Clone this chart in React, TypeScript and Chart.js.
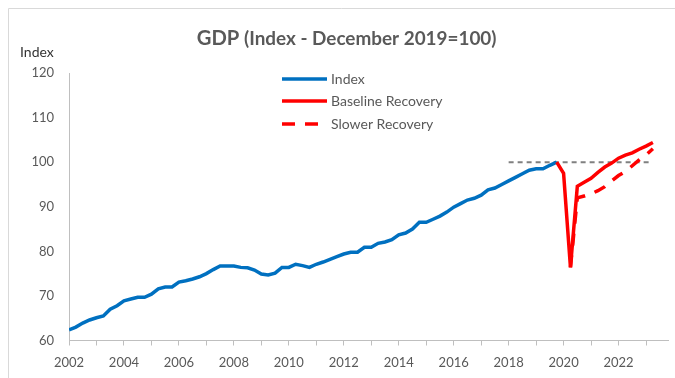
import React, { useEffect, useRef } from "react";
import { Chart, registerables } from "chart.js";

Chart.register(...registerables);

// ---- Data ----
const INDEX_START = 2002; // 2002 Q1, quarterly
const indexValues = [
  62.4, 63.0, 63.9, 64.6, 65.1, 65.5, 67.0, 67.8,
  68.9, 69.3, 69.7, 69.7, 70.4, 71.6, 72.0, 72.0,
  73.1, 73.4, 73.8, 74.3, 75.0, 75.9, 76.7, 76.7,
  76.7, 76.4, 76.3, 75.8, 74.9, 74.7, 75.1, 76.4,
  76.4, 77.1, 76.8, 76.4, 77.1, 77.6, 78.2, 78.8,
  79.4, 79.8, 79.8, 80.9, 80.9, 81.8, 82.1, 82.6,
  83.7, 84.1, 85.0, 86.5, 86.5, 87.2, 87.9, 88.8,
  89.9, 90.7, 91.5, 91.9, 92.6, 93.8, 94.2, 95.0,
  95.8, 96.6, 97.4, 98.2, 98.5, 98.5, 99.3, 100.0,
];
const BASELINE_START = 2019.75; // 2019 Q4
const baselineValues = [
  100.0, 97.5, 76.4, 94.6, 95.5, 96.4, 97.7, 98.9, 99.8, 100.9, 101.6, 102.1, 102.9, 103.6, 104.4,
];
const SLOWER_START = 2020.25; // 2020 Q2
const slowerValues = [76.4, 92.0, 92.4, 92.9, 93.6, 94.5, 95.8, 97.0, 97.9, 99.2, 100.5, 101.6, 103.0];
const refLineX = [2018, 2023.1];
const refLineY = [100, 100];
const xTickYears = [2002, 2003, 2004, 2005, 2006, 2007, 2008, 2009, 2010, 2011, 2012, 2013, 2014, 2015, 2016, 2017, 2018, 2019, 2020, 2021, 2022, 2023];
const X_MIN = 2002;
const X_MAX = 2023.8;
const Y_MIN = 60;
const Y_MAX = 120;
const Y_STEP = 10;

const TITLE_MAIN = "GDP";
const TITLE_SUB = "(Index - December 2019=100)";
const Y_TITLE = "Index";
const legendLabels = ["Index", "Baseline Recovery", "Slower Recovery"];

const BLUE = "#0070C0";
const RED = "#FF0000";
const GRAY_TEXT = "#595959";
const AXIS = "#bfbfbf";
const FONT = "Lato, 'Open Sans', sans-serif";

const quarterly = (start: number, values: number[]) =>
  values.map((v, i) => ({ x: start + i * 0.25, y: v }));

const W = 675;
const H = 378;

const decorPlugin = {
  id: "decor",
  beforeDraw(chart: any) {
    const ctx = chart.ctx;
    ctx.save();
    ctx.strokeStyle = "#d9d9d9";
    ctx.lineWidth = 1;
    ctx.beginPath();
    ctx.moveTo(8.5, H);
    ctx.lineTo(8.5, 8.5);
    ctx.lineTo(W, 8.5);
    ctx.stroke();
    ctx.restore();
  },
  afterDraw(chart: any) {
    const ctx = chart.ctx;
    ctx.save();
    // Title: sized so that it spans the same width as the reference
    ctx.fillStyle = GRAY_TEXT;
    ctx.textBaseline = "alphabetic";
    ctx.font = `bold 20px ${FONT}`;
    const s1 = Math.min(22, (20 * 42.6) / ctx.measureText(TITLE_MAIN).width);
    ctx.font = `bold 16px ${FONT}`;
    const s2 = Math.min(19, (16 * 252.7) / ctx.measureText(TITLE_SUB).width);
    ctx.font = `bold ${s1}px ${FONT}`;
    ctx.fillText(TITLE_MAIN, 196.7, 45);
    ctx.font = `bold ${s2}px ${FONT}`;
    ctx.fillText(TITLE_SUB, 244, 45);

    // Y axis title
    ctx.fillStyle = "#333333";
    ctx.font = `14px ${FONT}`;
    ctx.fillText(Y_TITLE, 20, 56.5);

    // Legend
    const items = [
      { color: BLUE, dash: [] as number[], y: 79 },
      { color: RED, dash: [] as number[], y: 101 },
      { color: RED, dash: [13, 10], y: 124 },
    ];
    items.forEach((it, i) => {
      ctx.beginPath();
      ctx.setLineDash(it.dash);
      ctx.strokeStyle = it.color;
      ctx.lineWidth = 3.5;
      ctx.lineCap = "butt";
      ctx.moveTo(282, it.y);
      ctx.lineTo(327, it.y);
      ctx.stroke();
      ctx.setLineDash([]);
      ctx.fillStyle = GRAY_TEXT;
      ctx.font = `14px ${FONT}`;
      ctx.textBaseline = "middle";
      ctx.fillText(legendLabels[i], 331, it.y);
    });
    ctx.restore();
  },
};

export default function App() {
  const ref = useRef<HTMLCanvasElement | null>(null);

  useEffect(() => {
    if (!ref.current) return;
    const chart = new Chart(ref.current, {
      type: "line",
      data: {
        datasets: [
          {
            label: "ref",
            data: refLineX.map((x, i) => ({ x, y: refLineY[i] })),
            borderColor: "#808080",
            borderWidth: 2,
            borderDash: [5, 4],
            pointRadius: 0,
            fill: false,
            order: 4,
          },
          {
            label: legendLabels[2],
            data: quarterly(SLOWER_START, slowerValues),
            borderColor: RED,
            borderWidth: 3.5,
            borderDash: [12, 10],
            pointRadius: 0,
            fill: false,
            tension: 0,
            order: 3,
          },
          {
            label: legendLabels[0],
            data: quarterly(INDEX_START, indexValues),
            borderColor: BLUE,
            borderWidth: 3.5,
            pointRadius: 0,
            fill: false,
            tension: 0,
            order: 2,
          },
          {
            label: legendLabels[1],
            data: quarterly(BASELINE_START, baselineValues),
            borderColor: RED,
            borderWidth: 3.5,
            pointRadius: 0,
            fill: false,
            tension: 0,
            order: 1,
          },
        ],
      },
      options: {
        animation: false,
        responsive: false,
        maintainAspectRatio: false,
        layout: { padding: { top: 73, right: 7, bottom: 0, left: 0 } },
        plugins: {
          legend: { display: false },
          tooltip: { enabled: false },
          title: { display: false },
        },
        scales: {
          x: {
            type: "linear",
            min: X_MIN,
            max: X_MAX,
            afterBuildTicks: (s: any) => {
              s.ticks = xTickYears.map((v) => ({ value: v }));
            },
            afterFit: (s: any) => {
              s.height = H - 340.5;
            },
            grid: {
              display: true,
              drawOnChartArea: false,
              drawTicks: true,
              tickLength: 5,
              color: AXIS,
            },
            border: { display: true, color: AXIS, width: 1 },
            ticks: {
              autoSkip: false,
              maxRotation: 0,
              padding: 10,
              color: GRAY_TEXT,
              font: { family: FONT, size: 13 },
              callback: (v: any) => (Number(v) % 2 === 0 ? String(v) : ""),
            },
          },
          y: {
            min: Y_MIN,
            max: Y_MAX,
            afterFit: (s: any) => {
              s.width = 69;
            },
            grid: { display: true, drawOnChartArea: false, drawTicks: false },
            border: { display: true, color: AXIS, width: 1 },
            ticks: {
              stepSize: Y_STEP,
              padding: 15,
              color: GRAY_TEXT,
              font: { family: FONT, size: 13 },
            },
          },
        },
      },
      plugins: [decorPlugin],
    });
    return () => chart.destroy();
  }, []);

  return (
    <div style={{ position: "fixed", left: 0, top: 0, width: W, height: H, background: "#fff" }}>
      <canvas ref={ref} width={W} height={H} style={{ width: W, height: H, display: "block" }} />
    </div>
  );
}
